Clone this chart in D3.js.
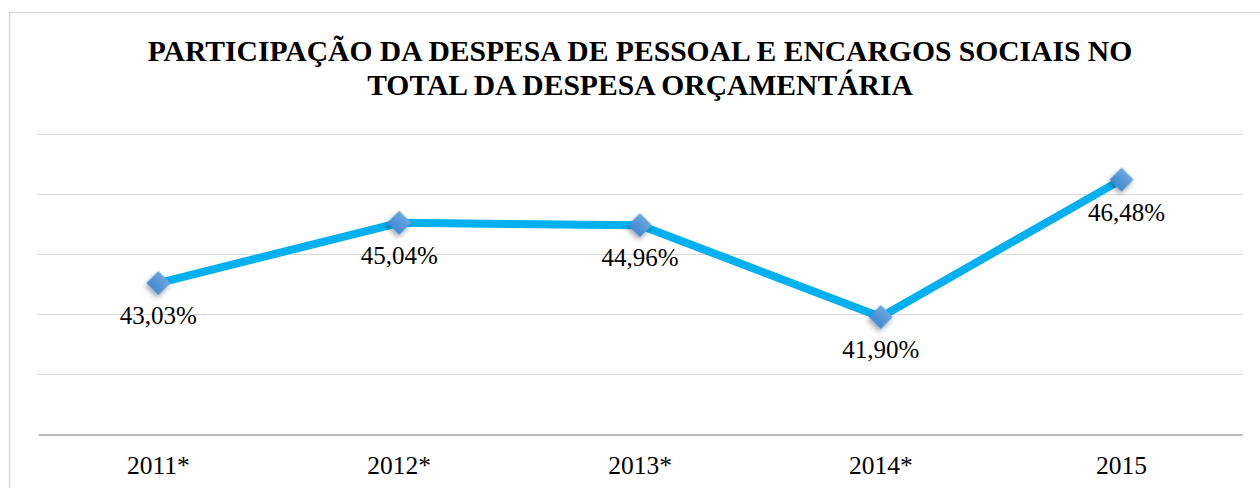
<!DOCTYPE html>
<html>
<head>
<meta charset="utf-8">
<script src="https://cdn.jsdelivr.net/npm/d3@7"></script>
<style>
  body { margin: 0; background: #fff; }
  svg { display: block; }
  svg text { font-family: "Liberation Serif", "Times New Roman", serif; }
</style>
</head>
<body>
<div id="chart"></div>
<script>
// Data
var years = ["2011*", "2012*", "2013*", "2014*", "2015"];
var shares = [43.03, 45.04, 44.96, 41.90, 46.48];
var yTicks = [38, 40, 42, 44, 46, 48];
var titleLines = [
  "PARTICIPAÇÃO DA DESPESA DE PESSOAL E ENCARGOS SOCIAIS NO",
  "TOTAL DA DESPESA ORÇAMENTÁRIA"
];

var serif = "Liberation Serif";

var svgWidth = 1260;
var svgHeight = 488;

var margin = { top: 134, right: 18, bottom: 54, left: 38 };
var width = svgWidth - margin.left - margin.right;
var height = svgHeight - margin.top - margin.bottom;

var svg = d3.select("#chart")
  .append("svg")
  .attr("width", svgWidth)
  .attr("height", svgHeight)
  .attr("font-family", serif);

// marker gradient + shadow
var defs = svg.append("defs");
var grad = defs.append("linearGradient")
  .attr("id", "mk")
  .attr("x1", "0").attr("y1", "0").attr("x2", "0").attr("y2", "1");
grad.append("stop").attr("offset", "0%").attr("stop-color", "#6aa6e0");
grad.append("stop").attr("offset", "100%").attr("stop-color", "#4388d0");
var shadow = defs.append("filter").attr("id", "sh")
  .attr("x", "-50%").attr("y", "-50%").attr("width", "200%").attr("height", "200%");
shadow.append("feDropShadow")
  .attr("dx", 1).attr("dy", 3).attr("stdDeviation", 2.5)
  .attr("flood-color", "#000").attr("flood-opacity", 0.35);

// chart border (top and left only visible)
svg.append("path")
  .attr("d", "M9.5,488 V12.5 H1260")
  .attr("fill", "none")
  .attr("stroke", "#d9d9d9")
  .attr("stroke-width", 1.5);

// title
svg.append("text")
  .attr("x", 640)
  .attr("y", 61)
  .attr("text-anchor", "middle")
  .attr("font-family", serif)
  .style("font-weight", "bold")
  .style("font-size", "29.6px")
  .selectAll("tspan")
  .data(titleLines)
  .enter()
  .append("tspan")
  .attr("x", 640)
  .attr("dy", (d, i) => i === 0 ? 0 : 34)
  .text(d => d);

var chartGroup = svg.append("g")
  .attr("transform", `translate(${margin.left}, ${margin.top})`);

var xScale = d3.scaleBand()
  .domain(years)
  .range([0, width]);

var yScale = d3.scaleLinear()
  .domain([38, 48])
  .range([height, 0]);

// gridlines
chartGroup.append("g")
  .selectAll("line")
  .data(yTicks.slice(1))
  .enter()
  .append("line")
  .attr("x1", 0).attr("x2", width)
  .attr("y1", d => Math.round(yScale(d)) + 0.5)
  .attr("y2", d => Math.round(yScale(d)) + 0.5)
  .attr("stroke", "#d9d9d9")
  .attr("stroke-width", 1);

// x axis
var bottomAxis = d3.axisBottom(xScale).tickSize(0).tickPadding(21);
var xAxis = chartGroup.append("g")
  .attr("transform", `translate(0, ${height + 0.5})`)
  .call(bottomAxis)
  .attr("font-family", serif)
  .attr("font-size", 25.5);
xAxis.select(".domain").attr("stroke", "#a6a6a6").attr("stroke-width", 1.5);
xAxis.selectAll("text").attr("fill", "#000");

// line
var line = d3.line()
  .x((d, i) => xScale(years[i]) + xScale.bandwidth() / 2)
  .y(d => yScale(d));

chartGroup.append("path")
  .datum(shares)
  .attr("d", line)
  .attr("fill", "none")
  .attr("stroke", "#00b0f0")
  .attr("stroke-width", 8)
  .attr("stroke-linejoin", "round");

// markers
chartGroup.selectAll(".mk")
  .data(shares)
  .enter()
  .append("path")
  .attr("class", "mk")
  .attr("d", d3.symbol().type(d3.symbolSquare).size(290))
  .attr("transform", (d, i) => `translate(${xScale(years[i]) + xScale.bandwidth() / 2}, ${yScale(d)}) rotate(45)`)
  .attr("fill", "url(#mk)")
  .attr("filter", "url(#sh)");

// value labels
var labelGroup = chartGroup.append("g")
  .attr("font-family", serif)
  .attr("font-size", 25);

labelGroup.selectAll("text")
  .data(shares)
  .enter()
  .append("text")
  .attr("x", (d, i) => xScale(years[i]) + xScale.bandwidth() / 2 + (i === 4 ? 5 : 0))
  .attr("y", d => yScale(d) + 41)
  .attr("text-anchor", "middle")
  .attr("fill", "#000")
  .text(d => d.toFixed(2).replace(".", ",") + "%");
</script>
</body>
</html>
